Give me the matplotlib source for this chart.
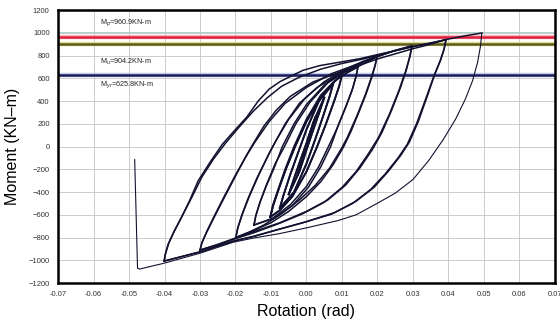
import numpy as np
import matplotlib
matplotlib.use("Agg")
import matplotlib.pyplot as plt

plt.rcParams['font.family'] = ['Liberation Sans', 'DejaVu Sans']

# ---- reference moment levels ----
level_names = ["M$_p$=960.9KN-m", "M$_u$=904.2KN-m", "M$_{yr}$=625.8KN-m"]
level_values = [960.9, 904.2, 625.8]
level_colors = ["#e0203c", "#5c5c1c", "#1c1c5a"]

# ---- hysteresis branches (rotation rad, moment kN-m) ----
U0025 = [(-0.0025, -250), (-0.0010, -100), (0.0005, 60), (0.0025, 255)]
D0025 = [(0.0025, 255), (0.0010, 110), (-0.0005, -50), (-0.0025, -250)]
U005 = [(-0.0050, -420), (-0.0035, -280), (-0.0015, -100), (0.0000, 30), (0.0020, 220), (0.0050, 430)]
D005 = [(0.0050, 430), (0.0035, 290), (0.0015, 110), (0.0000, -30), (-0.0020, -220), (-0.0050, -420)]
U0075 = [(-0.0075, -540), (-0.0065, -430), (-0.0045, -240), (-0.0022, -40), (0.0000, 150), (0.0035, 400), (0.0075, 550)]
D0075 = [(0.0075, 550), (0.0065, 440), (0.0045, 250), (0.0022, 40), (0.0000, -150), (-0.0035, -400), (-0.0075, -540)]
U01a = [(-0.0102, -620), (-0.0094, -520), (-0.0080, -390), (-0.0057, -190), (-0.0032, 0), (0.0000, 220), (0.0040, 430), (0.0075, 560), (0.0100, 630)]
D01 = [(0.0100, 630), (0.0092, 530), (0.0078, 400), (0.0055, 200), (0.0030, 0), (0.0000, -220), (-0.0040, -440), (-0.0075, -560), (-0.0102, -620)]
U01b = [(-0.0102, -620), (-0.0095, -520), (-0.0080, -380), (-0.0060, -200), (-0.0035, 0), (0.0000, 240), (0.0040, 450), (0.0080, 580), (0.0115, 650), (0.0145, 700)]
# 0.015 cycles
D015 = [(0.0145, 700), (0.0140, 620), (0.0130, 510), (0.0113, 370), (0.0090, 190), (0.0068, 0), (0.0040, -180), (0.0005, -360), (-0.0040, -520), (-0.0090, -630), (-0.0148, -690)]
U015a = [(-0.0148, -690), (-0.0142, -600), (-0.0130, -480), (-0.0112, -330), (-0.0088, -150), (-0.0062, 0), (-0.0030, 200), (0.0010, 390), (0.0060, 560), (0.0110, 660), (0.0145, 700)]
D015b = [(0.0145, 700), (0.0139, 610), (0.0128, 490), (0.0110, 340), (0.0086, 160), (0.0062, 0), (0.0034, -180), (0.0000, -350), (-0.0045, -510), (-0.0095, -630), (-0.0148, -690)]
U015 = [(-0.0148, -690), (-0.0143, -610), (-0.0132, -500), (-0.0115, -360), (-0.0090, -180), (-0.0068, 0), (-0.0035, 200), (0.0000, 370), (0.0050, 540), (0.0100, 650), (0.0145, 720), (0.0199, 795)]
# 0.02 cycles
D02 = [(0.0199, 795), (0.0194, 720), (0.0185, 620), (0.0170, 480), (0.0150, 320), (0.0125, 130), (0.0105, 0), (0.0075, -160), (0.0040, -310), (0.0000, -440), (-0.0050, -570), (-0.0100, -670), (-0.0150, -740), (-0.0199, -800)]
U02a = [(-0.0199, -800), (-0.0193, -710), (-0.0180, -590), (-0.0160, -430), (-0.0133, -240), (-0.0105, -60), (-0.0088, 40), (-0.0050, 240), (-0.0005, 420), (0.0050, 570), (0.0110, 680), (0.0160, 750), (0.0199, 795)]
D02b = [(0.0199, 795), (0.0193, 710), (0.0182, 600), (0.0165, 450), (0.0142, 270), (0.0115, 80), (0.0098, -20), (0.0065, -190), (0.0025, -340), (-0.0020, -470), (-0.0070, -590), (-0.0120, -690), (-0.0160, -750), (-0.0199, -800)]
U02 = [(-0.0199, -800), (-0.0194, -720), (-0.0182, -600), (-0.0165, -460), (-0.0140, -280), (-0.0110, -90), (-0.0095, 0), (-0.0060, 200), (-0.0020, 380), (0.0030, 520), (0.0090, 630), (0.0150, 710), (0.0199, 790), (0.0250, 845), (0.0297, 885)]
# 0.03 cycles
D03 = [(0.0297, 885), (0.0292, 800), (0.0282, 680), (0.0265, 520), (0.0240, 320), (0.0212, 120), (0.0185, -30), (0.0150, -190), (0.0110, -340), (0.0060, -470), (0.0000, -570), (-0.0075, -670), (-0.0150, -750), (-0.0205, -810), (-0.0250, -860), (-0.0300, -910)]
U03a = [(-0.0300, -910), (-0.0294, -840), (-0.0280, -740), (-0.0258, -600), (-0.0232, -440), (-0.0200, -250), (-0.0165, -60), (-0.0145, 40), (-0.0105, 220), (-0.0060, 380), (0.0000, 520), (0.0070, 640), (0.0140, 720), (0.0200, 790), (0.0250, 845), (0.0297, 885)]
D03b = [(0.0297, 885), (0.0291, 790), (0.0279, 660), (0.0260, 490), (0.0233, 280), (0.0203, 80), (0.0175, -60), (0.0140, -220), (0.0100, -360), (0.0050, -490), (-0.0010, -590), (-0.0080, -680), (-0.0150, -760), (-0.0205, -815), (-0.0250, -865), (-0.0300, -910)]
U03 = [(-0.0300, -910), (-0.0295, -850), (-0.0282, -760), (-0.0263, -640), (-0.0240, -500), (-0.0210, -320), (-0.0175, -110), (-0.0155, 0), (-0.0120, 180), (-0.0085, 320), (-0.0046, 440), (0.0018, 567), (0.0086, 646), (0.0150, 715), (0.0200, 770), (0.0250, 815), (0.0300, 860), (0.0350, 900), (0.0393, 940)]
# 0.04 cycles
D04 = [(0.0393, 940), (0.0388, 860), (0.0378, 760), (0.0362, 640), (0.0340, 440), (0.0315, 220), (0.0290, 40), (0.0265, -80), (0.0230, -220), (0.0190, -360), (0.0140, -480), (0.0080, -580), (0.0000, -660), (-0.0075, -725), (-0.0150, -790), (-0.0205, -830), (-0.0300, -925), (-0.0401, -1007)]
U04a = [(-0.0401, -1007), (-0.0397, -940), (-0.0388, -850), (-0.0372, -740), (-0.0350, -610), (-0.0322, -440), (-0.0295, -270), (-0.0262, -110), (-0.0228, 30), (-0.0190, 170), (-0.0150, 310), (-0.0110, 430), (-0.0070, 530), (-0.0020, 610), (0.0040, 680), (0.0100, 730), (0.0160, 770), (0.0220, 820), (0.0280, 865), (0.0340, 905), (0.0393, 940)]
D04b = [(0.0393, 940), (0.0387, 850), (0.0376, 750), (0.0359, 620), (0.0336, 420), (0.0310, 200), (0.0284, 20), (0.0258, -100), (0.0222, -240), (0.0180, -380), (0.0130, -500), (0.0070, -595), (-0.0010, -670), (-0.0080, -730), (-0.0150, -792), (-0.0205, -832), (-0.0300, -927), (-0.0401, -1007)]
U04 = [(-0.0401, -1007), (-0.0398, -950), (-0.0390, -860), (-0.0375, -760), (-0.0356, -646), (-0.0330, -480), (-0.0305, -300), (-0.0270, -130), (-0.0237, 20), (-0.0200, 150), (-0.0168, 260), (-0.0136, 400), (-0.0105, 505), (-0.0075, 570), (-0.0046, 615), (-0.0010, 670), (0.0038, 712), (0.0100, 745), (0.0150, 772), (0.0200, 808), (0.0250, 842), (0.0300, 878), (0.0350, 908), (0.0400, 945), (0.0450, 975), (0.0494, 998)]
# 0.05 excursion and final push
D05 = [(0.0494, 998), (0.0490, 880), (0.0482, 740), (0.0468, 580), (0.0448, 420), (0.0420, 240), (0.0385, 60), (0.0345, -120), (0.0300, -290), (0.0250, -410), (0.0199, -500), (0.0140, -600), (0.0090, -650), (0.0000, -715), (-0.0075, -765), (-0.0150, -805), (-0.0207, -842), (-0.0300, -938), (-0.0404, -1028), (-0.0470, -1077), (-0.0476, -1070), (-0.0484, -115)]

branch_sequence = [U0025, D0025, U0025, D0025, U005, D005, U005, D005, U0075, D0075, U0075, D0075,
                   U01a, D01, U01a, D01, U01b,
                   D015, U015a, D015b, U015,
                   D02, U02a, D02b, U02,
                   D03, U03a, D03b, U03,
                   D04, U04a, D04b, U04, D05]
branch_widths = [1.3] * 17 + [1.1] * 16 + [0.8]

# ---- axis ticks ----
x_ticks = [-0.07, -0.06, -0.05, -0.04, -0.03, -0.02, -0.01, 0.0, 0.01, 0.02, 0.03, 0.04, 0.05, 0.06, 0.07]
x_tick_labels = ["-0.07", "-0.06", "-0.05", "-0.04", "-0.03", "-0.02", "-0.01", "0.00", "0.01", "0.02", "0.03", "0.04", "0.05", "0.06", "0.07"]
y_ticks = [-1200, -1000, -800, -600, -400, -200, 0, 200, 400, 600, 800, 1000, 1200]

fig = plt.figure(figsize=(5.6, 3.24), dpi=100)
ax = fig.add_axes([0.1036, 0.1265, 0.8874, 0.8425])
ax.set_xlim(-0.07, 0.07)
ax.set_ylim(-1200, 1200)

ax.grid(True, color="#c4c4c4", linewidth=0.6)
ax.set_axisbelow(True)
ax.axhline(1005, color="#9cc8c0", linewidth=0.6, zorder=1)

halo_colors = ["#f4a0a8", "#d8d070", "#a8b4e8"]
for v, c, h in zip(level_values, level_colors, halo_colors):
    ax.axhline(v, color=h, linewidth=3.2, zorder=2, alpha=0.7)
    ax.axhline(v, color=c, linewidth=1.8, zorder=2)

for br, lw in zip(branch_sequence, branch_widths):
    arr = np.array(br)
    ax.plot(arr[:, 0], arr[:, 1], color="#121230", linewidth=lw, zorder=3, solid_joinstyle="round")

label_y = [1080, 745, 535]
for name, yv in zip(level_names, label_y):
    ax.text(-0.0582, yv, name, fontsize=5.2, color="#222222", va="center", ha="left")

ax.set_xticks(x_ticks)
ax.set_xticklabels(x_tick_labels)
ax.set_yticks(y_ticks)
ax.tick_params(axis="both", labelsize=5.5, colors="#333333", length=0, pad=6)
for s in ax.spines.values():
    s.set_linewidth(1.8)
    s.set_color("black")

ax.set_xlabel("Rotation (rad)", fontsize=11.5, labelpad=4)
ax.set_ylabel("Moment (KN–m)", fontsize=11.5, labelpad=6)

fig.savefig("out.png", dpi=100)
